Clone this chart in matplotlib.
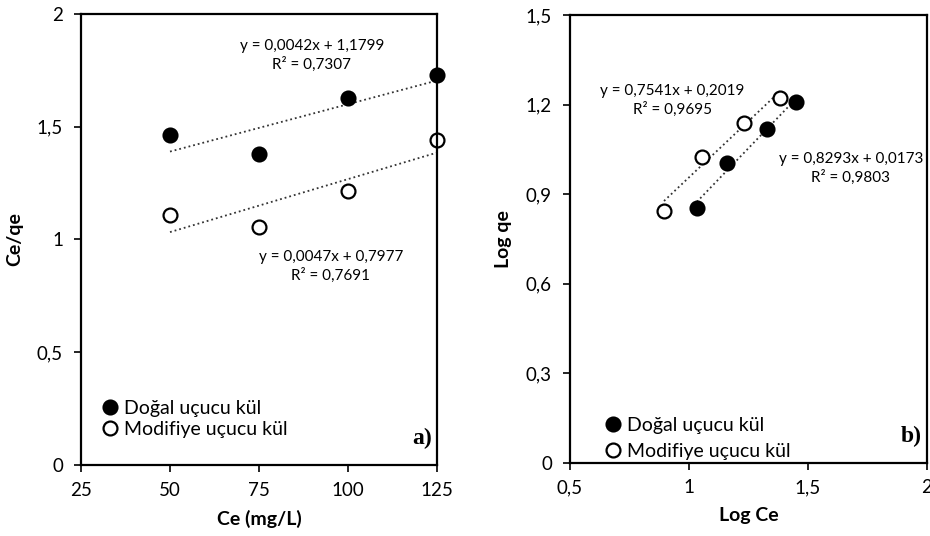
import numpy as np
from matplotlib import pyplot as plt

plt.rcParams['font.family'] = ['Lato', 'DejaVu Sans']

# Panel a) Ce/qe vs Ce
ce = [50, 75, 100, 125]
dogal_a = [1.463, 1.378, 1.629, 1.731]
modif_a = [1.109, 1.055, 1.216, 1.441]
fit_dogal_a = [0.0042, 1.1799]
fit_modif_a = [0.0047, 0.7977]

# Panel b) Log qe vs Log Ce
logce_dogal = [1.033, 1.159, 1.327, 1.450]
logqe_dogal = [0.854, 1.003, 1.117, 1.210]
logce_modif = [0.895, 1.054, 1.229, 1.383]
logqe_modif = [0.844, 1.025, 1.139, 1.223]
fit_dogal_b = [0.8293, 0.0173]
fit_modif_b = [0.7541, 0.2019]

xticks_a = [25, 50, 75, 100, 125]
yticks_a = [0, 0.5, 1, 1.5, 2]
yticklabels_a = ["0", "0,5", "1", "1,5", "2"]
xticks_b = [0.5, 1, 1.5, 2]
xticklabels_b = ["0,5", "1", "1,5", "2"]
yticks_b = [0, 0.3, 0.6, 0.9, 1.2, 1.5]
yticklabels_b = ["0", "0,3", "0,6", "0,9", "1,2", "1,5"]

fig = plt.figure(figsize=(9.3, 5.36), dpi=100)
ax1 = fig.add_axes([0.0871, 0.1325, 0.3828, 0.8414])
ax2 = fig.add_axes([0.6129, 0.1368, 0.3839, 0.8352])

mk = dict(markersize=10, markeredgewidth=1.6, linestyle='none', markeredgecolor='black', clip_on=False)


def style(ax):
    for s in ax.spines.values():
        s.set_linewidth(1.6)
    ax.tick_params(direction='out', length=5, width=1.2, labelsize=13.5, colors='black')
    ax.tick_params(axis='x', pad=7)
    ax.tick_params(axis='y', pad=8)


# --- a)
xa = np.array(ce, dtype=float)
ax1.plot(xa, np.polyval(fit_dogal_a, xa), ':', color='#333333', lw=1.3)
ax1.plot(xa, np.polyval(fit_modif_a, xa), ':', color='#333333', lw=1.3)
ax1.plot(ce, dogal_a, 'o', color='black', label='Doğal uçucu kül', **mk)
ax1.plot(ce, modif_a, 'o', color='white', label='Modifiye uçucu kül', **mk)
ax1.set_xlim(25, 125)
ax1.set_ylim(0, 2)
ax1.set_xticks(xticks_a)
ax1.set_yticks(yticks_a)
ax1.set_yticklabels(yticklabels_a)
ax1.set_xlabel("Ce (mg/L)", fontsize=14, fontweight='bold', labelpad=8)
ax1.set_ylabel("Ce/qe", fontsize=14, fontweight='bold', labelpad=10)
style(ax1)
ax1.text(89.8, 1.818, "y = 0,0042x + 1,1799\nR² = 0,7307", ha='center', va='center', fontsize=11, linespacing=1.3)
ax1.text(95.2, 0.882, "y = 0,0047x + 0,7977\nR² = 0,7691", ha='center', va='center', fontsize=11, linespacing=1.3)
ax1.text(0.985, 0.035, "a)", transform=ax1.transAxes, ha='right', va='bottom',
         fontsize=17, fontweight='bold', family='Liberation Serif')
ax1.legend(loc='lower left', bbox_to_anchor=(0.0, 0.03), frameon=False, fontsize=14,
           handletextpad=-0.1, handlelength=1.6, labelspacing=0.2, borderaxespad=0.3)

# --- b)
xd = np.array([logce_dogal[0], logce_dogal[-1]])
xm = np.array([logce_modif[0], logce_modif[-1]])
ax2.plot(xd, np.polyval(fit_dogal_b, xd), ':', color='#333333', lw=1.3)
ax2.plot(xm, np.polyval(fit_modif_b, xm), ':', color='#333333', lw=1.3)
ax2.plot(logce_dogal, logqe_dogal, 'o', color='black', label='Doğal uçucu kül', **mk)
ax2.plot(logce_modif, logqe_modif, 'o', color='white', label='Modifiye uçucu kül', **mk)
ax2.set_xlim(0.5, 2)
ax2.set_ylim(0, 1.5)
ax2.set_xticks(xticks_b)
ax2.set_xticklabels(xticklabels_b)
ax2.set_yticks(yticks_b)
ax2.set_yticklabels(yticklabels_b)
ax2.set_xlabel("Log Ce", fontsize=14, fontweight='bold', labelpad=8)
ax2.set_ylabel("Log qe", fontsize=14, fontweight='bold', labelpad=10)
style(ax2)
ax2.text(0.931, 1.215, "y = 0,7541x + 0,2019\nR² = 0,9695", ha='center', va='center', fontsize=11, linespacing=1.3)
ax2.text(1.68, 0.987, "y = 0,8293x + 0,0173\nR² = 0,9803", ha='center', va='center', fontsize=11, linespacing=1.3)
ax2.text(0.985, 0.035, "b)", transform=ax2.transAxes, ha='right', va='bottom',
         fontsize=17, fontweight='bold', family='Liberation Serif')
ax2.legend(loc='lower left', bbox_to_anchor=(0.04, -0.025), frameon=False, fontsize=14,
           handletextpad=-0.1, handlelength=1.6, labelspacing=0.5, borderaxespad=0.3)

fig.savefig("out.png", dpi=100)
